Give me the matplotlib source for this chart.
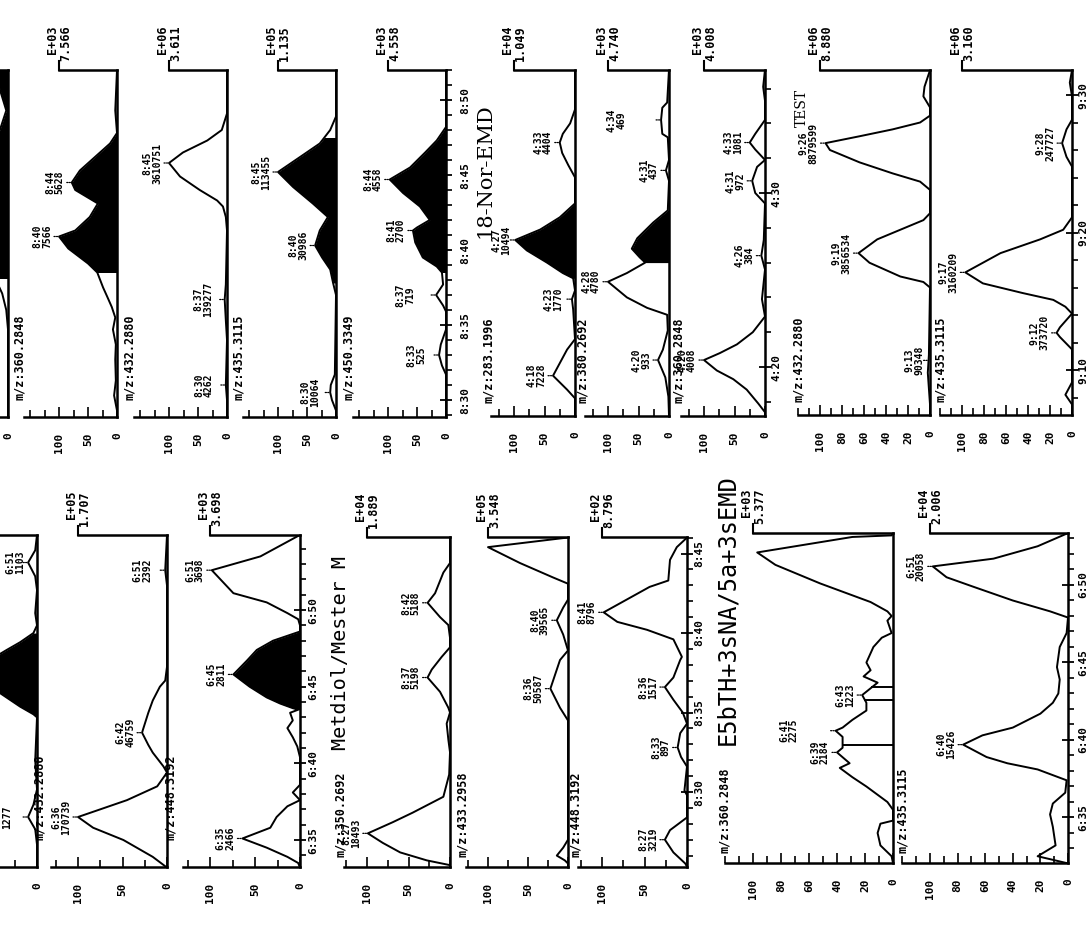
import numpy as np
import matplotlib
matplotlib.use("Agg")
import matplotlib.pyplot as plt
from matplotlib.ticker import FixedLocator, MultipleLocator, FuncFormatter

W, H = 1089, 932
MONO = "DejaVu Sans Mono"
plt.rcParams['font.family'] = [MONO, 'DejaVu Sans']
plt.rcParams['font.weight'] = 'bold'

# ---------------- data: time in seconds, intensity in % ----------------
# group A: 8:30 - 8:50
a0_t = [532.0, 530.7, 529.3, 528.0, 526.7, 525.3, 523.3, 521.3, 519.3, 518.1, 517.1, 516.0, 514.7, 508.9]
a0_i = [22, 14, 3, 14, 31, 65, 90, 74, 40, 22, 10, 3, 0, 0]

a1_t = [532.0, 529.3, 527.8, 527.1, 526.2, 525.3, 524.5, 524.0, 523.1, 522.2, 521.3, 520.9, 520.1,
        519.1, 518.5, 517.5, 516.9, 516.2, 515.5, 514.7, 513.7, 512.7, 511.3, 510.3, 509.3, 508.9]
a1_i = [0, 3, 0, 12, 38, 64, 78, 72, 33, 47, 72, 100, 84, 50, 34, 24, 17, 9, 3, 7, 2, 3, 2, 5, 0, 0]
a1_peaks = [520.9, 524.5]
a1_labels = ["8:40\n7566", "8:44\n5628"]

a2_t = [532.0, 529.1, 528.0, 527.3, 526.5, 525.8, 524.9, 524.0, 523.3, 522.9, 522.2, 521.3,
        517.7, 516.7, 515.3, 514.0, 511.0, 510.0, 508.9]
a2_i = [0, 0, 9, 34, 76, 100, 81, 47, 17, 7, 2, 0, 2, 4, 2, 0, 2, 0, 0]
a2_peaks = [525.8, 516.7, 511.0]
a2_labels = ["8:45\n3610751", "8:37\n139277", "8:30\n4262"]

a3_t = [532.0, 528.9, 528.0, 527.1, 526.2, 525.2, 524.2, 523.1, 522.2, 521.3, 520.3, 519.5,
        518.7, 517.8, 517.0, 511.7, 511.0, 510.5, 510.0, 509.3, 508.9]
a3_i = [0, 0, 10, 28, 62, 100, 74, 40, 14, 28, 36, 24, 10, 5, 0, 2, 9, 10, 7, 0, 0]
a3_peaks = [525.2, 520.3, 510.5]
a3_labels = ["8:45\n113455", "8:40\n30986", "8:30\n10064"]

a4_t = [532.0, 528.2, 527.3, 526.5, 525.5, 524.7, 523.8, 522.9, 522.0, 521.5, 521.3, 520.5, 519.5,
        518.9, 518.5, 517.7, 517.0, 516.3, 515.9, 514.7, 513.7, 513.0, 512.3, 511.7, 508.9]
a4_i = [0, 0, 16, 36, 62, 97, 74, 45, 28, 50, 57, 53, 40, 16, 7, 5, 17, 5, 0, 0, 9, 12, 7, 0, 0]
a4_peaks = [524.7, 521.3, 517.0, 513.0]
a4_labels = ["8:44\n4558", "8:41\n2700", "8:37\n719", "8:33\n525"]

# group B: 18-Nor-EMD, 4:20 - 4:30
b1_t = [277.1, 274.8, 274.0, 273.4, 272.9, 272.3, 271.6, 270.9, 269.4, 268.6, 267.9, 267.3, 266.7,
        266.0, 265.4, 265.1, 264.4, 263.9, 263.3, 261.6, 261.0, 259.5, 258.7, 258.2, 257.2]
b1_i = [0, 0, 8, 20, 25, 21, 11, 0, 0, 25, 57, 98, 79, 46, 20, 3, 0, 5, 3, 0, 13, 36, 13, 0, 0]
b1_peaks = [267.3, 272.9, 263.9, 259.5]
b1_labels = ["4:27\n10494", "4:33\n4404", "4:23\n1770", "4:18\n7228"]

b2_t = [277.1, 275.2, 274.9, 274.2, 273.4, 273.2, 271.9, 271.3, 270.7, 269.0, 268.3, 267.4, 266.8,
        266.3, 266.0, 265.4, 264.9, 264.0, 263.4, 263.0, 262.1, 261.0, 260.4, 259.4, 258.3, 257.2]
b2_i = [0, 3, 11, 13, 11, 2, 0, 5, 0, 2, 26, 52, 61, 48, 39, 69, 100, 69, 36, 3, 2, 10, 18, 6, 1, 0]
b2_peaks = [264.9, 274.2, 271.3, 260.4]
b2_labels = ["4:28\n4780", "4:34\n469", "4:31\n437", "4:20\n933"]

b3_t = [277.1, 276.1, 275.3, 274.2, 273.4, 272.9, 272.5, 271.9, 271.5, 270.7, 270.0, 269.4, 267.3,
        266.4, 265.6, 263.9, 262.9, 262.0, 261.3, 260.8, 260.4, 259.8, 259.3, 258.7, 257.9, 257.4, 257.2]
b3_i = [0, 3, 0, 0, 16, 25, 16, 0, 13, 21, 16, 0, 2, 6, 0, 5, 0, 20, 46, 74, 100, 79, 52, 30, 11, 0, 0]
b3_peaks = [272.9, 270.7, 266.4, 260.4]
b3_labels = ["4:33\n1081", "4:31\n972", "4:26\n384", "4:20\n4008"]

# group C: TEST, 9:10 - 9:30
c1_t = [571.8, 570.6, 569.9, 569.1, 568.5, 568.0, 567.5, 567.0, 566.5, 566.0, 565.1, 564.3, 563.7,
        563.1, 561.4, 560.9, 560.2, 559.5, 558.5, 557.8, 556.8, 556.4, 556.0, 551.1, 549.8, 547.5, 546.7]
c1_i = [0, 5, 6, 0, 0, 9, 34, 64, 95, 91, 64, 34, 9, 0, 0, 6, 27, 48, 65, 55, 27, 6, 0, 1, 2, 0, 0]
c1_peaks = [566.5, 558.5, 550.7]
c1_labels = ["9:26\n8879599", "9:19\n3856534", "9:13\n90348"]

c2_t = [571.8, 570.9, 569.9, 568.2, 567.5, 566.5, 565.5, 564.8, 561.1, 560.2, 559.5, 558.5, 557.1,
        556.3, 555.6, 555.1, 554.6, 554.1, 553.1, 552.7, 552.4, 551.5, 549.1, 548.2, 547.5, 546.7]
c2_i = [0, 2, 0, 0, 5, 9, 5, 0, 0, 8, 29, 65, 97, 81, 45, 17, 6, 0, 11, 14, 11, 0, 0, 6, 0, 0]
c2_peaks = [557.1, 566.5, 552.7]
c2_labels = ["9:17\n3160209", "9:28\n247727", "9:12\n373720"]

# group D: 6:35 - 6:50
d0_t = [414.9, 413.9, 413.1, 412.2, 411.3, 409.8, 409.0, 408.5, 407.9, 407.4, 405.8, 404.6, 403.7,
        403.2, 403.0, 400.2, 398.3, 397.3, 396.5, 395.7, 394.7, 393.2]
d0_i = [0, 2, 10, 2, 0, 2, 0, 4, 19, 34, 80, 42, 19, 4, 0, 2, 0, 4, 10, 2, 0, 0]
d0_peaks = [413.1, 396.5]
d0_labels = ["6:51\n1103", "6:37\n1277"]

d1_t = [414.9, 412.6, 411.6, 406.3, 405.4, 405.0, 404.1, 403.3, 402.2, 402.0, 401.2, 400.7, 399.8,
        399.4, 398.5, 397.6, 397.0, 396.5, 395.8, 395.0, 393.9, 393.2]
d1_i = [0, 2, 0, 0, 2, 8, 16, 21, 27, 28, 21, 16, 4, 0, 11, 45, 75, 100, 83, 49, 16, 0]
d1_peaks = [402.0, 396.5, 412.6]
d1_labels = ["6:42\n46759", "6:36\n170739", "6:51\n2392"]

d2_t = [414.9, 413.5, 412.6, 411.1, 410.5, 409.8, 409.4, 409.0, 408.6, 408.0, 407.4, 406.7, 405.8,
        405.0, 404.3, 403.9, 403.6, 403.5, 403.3, 402.8, 402.3, 401.7, 401.1, 400.4, 398.6, 398.1,
        397.6, 397.2, 396.5, 395.8, 395.1, 394.5, 393.9, 393.5, 393.2]
d2_i = [0, 44, 98, 74, 37, 14, 2, 0, 0, 30, 48, 59, 74, 56, 37, 22, 8, 2, 11, 8, 14, 8, 3, 0, 0, 8,
        0, 14, 26, 33, 64, 37, 14, 2, 0]
d2_peaks = [412.6, 405.8, 395.1]
d2_labels = ["6:51\n3698", "6:45\n2811", "6:35\n2466"]

# group E: Metdiol/Mester M, 8:30 - 8:45
e1_t = [526.0, 524.4, 523.8, 522.5, 521.9, 521.0, 520.5, 519.7, 519.1, 518.5, 517.7, 517.2, 516.3,
        515.3, 515.0, 514.3, 513.3, 512.5, 511.1, 509.7, 508.7, 508.1, 507.4, 506.8, 506.2, 505.7,
        505.4, 505.3]
e1_i = [0, 0, 8, 18, 27, 12, 2, 0, 0, 10, 22, 27, 12, 2, 0, 4, 2, 0, 1, 8, 45, 69, 99, 81, 60, 28, 0, 0]
e1_peaks = [521.9, 517.2, 507.4]
e1_labels = ["8:42\n5188", "8:37\n5198", "8:27\n18493"]

e2_t = [526.0, 525.4, 524.4, 523.5, 523.1, 522.1, 521.6, 520.8, 519.9, 518.9, 518.3, 516.5, 515.3,
        514.5, 507.0, 506.5, 506.0, 505.7, 505.5, 505.3]
e2_i = [1, 100, 60, 19, 0, 0, 6, 14, 6, 0, 10, 22, 10, 0, 0, 6, 14, 4, 0, 0]
e2_peaks = [520.8, 516.5]
e2_labels = ["8:40\n39565", "8:36\n50587"]

e3_t = [526.0, 525.4, 524.6, 523.3, 522.9, 522.1, 521.3, 520.7, 520.2, 519.6, 518.5, 518.3, 517.2,
        516.6, 515.8, 515.0, 514.3, 513.7, 512.8, 512.2, 511.6, 510.1, 509.8, 508.4, 507.6, 507.0,
        506.2, 505.5, 505.3]
e3_i = [0, 12, 20, 22, 44, 71, 98, 82, 47, 16, 6, 8, 16, 26, 16, 5, 0, 8, 11, 7, 0, 3, 0, 0, 20, 26,
        16, 2, 0]
e3_peaks = [521.3, 516.6, 512.8, 507.0]
e3_labels = ["8:41\n8796", "8:36\n1517", "8:33\n897", "8:27\n3219"]

# group F: E5bTH+3sNA/5a+3sEMD, 6:35 - 6:50
f1_t = [413.35, 413.2, 413.1, 412.1, 411.3, 410.1, 408.9, 408.3, 408.0, 407.7, 406.9, 406.6, 406.0,
        405.0, 404.5, 404.1, 403.7, 402.9, 402.4, 401.9, 401.3, 400.8, 400.6, 400.2, 399.5, 399.2,
        398.5, 398.2, 397.6, 397.0, 396.0, 395.5, 394.8, 394.6, 394.0, 393.2, 392.5, 392.06]
f1_i = [0, 1, 29, 97, 84, 52, 16, 4, 1, 4, 1, 8, 14, 19, 16, 21, 11, 22, 19, 19, 29, 36, 41, 36, 36,
        40, 31, 38, 29, 19, 4, 0, 0, 9, 11, 9, 1, 0]
f1_peaks = [400.6, 399.2, 402.9]
f1_labels = ["6:41\n2275", "6:39\n2184", "6:43\n1223"]
f1_drops = [403.4, 402.6, 399.7]

f2_t = [413.35, 412.5, 411.7, 411.2, 410.5, 409.9, 409.0, 408.3, 407.9, 406.9, 406.0, 404.7, 403.9,
        403.0, 402.4, 401.7, 400.8, 400.3, 399.7, 398.9, 398.5, 398.1, 397.4, 396.6, 395.9, 395.2,
        394.4, 393.2, 392.5, 392.06]
f2_i = [0, 22, 54, 98, 88, 69, 40, 13, 0, 1, 6, 8, 6, 7, 11, 20, 40, 62, 76, 59, 44, 22, 1, 2, 11,
        13, 11, 9, 22, 1]
f2_peaks = [411.2, 399.7]
f2_labels = ["6:51\n20058", "6:40\n15426"]

# ---------------- layout of the rotated page (pixels) ----------------
GROUPS = {
    'A': dict(bot=417, top=70, t_ref=510, y_ref=400, pps=15.0, imax=160, major=[0, 50, 100], minor=25,
              tmaj=5, tmin=1, tpad=6.5, mz_dx=-5, mz_dy=17),
    'B': dict(bot=416, top=70, t_ref=260, y_ref=367, pps=17.4, imax=137, major=[0, 50, 100], minor=25,
              tmaj=10, tmin=2, tpad=0.5, mz_dx=-3, mz_dy=13),
    'C': dict(bot=415, top=70, t_ref=550, y_ref=370, pps=13.75, imax=120,
              major=[0, 20, 40, 60, 80, 100], minor=10, tmaj=10, tmin=2, tpad=0.5, mz_dx=0, mz_dy=13),
    'D': dict(bot=867, top=535, t_ref=395, y_ref=840, pps=15.33, imax=130, major=[0, 50, 100], minor=25,
              tmaj=5, tmin=1, tpad=2.2, mz_dx=-12, mz_dy=27),
    'E': dict(bot=867, top=537, t_ref=510, y_ref=792, pps=15.9, imax=128, major=[0, 50, 100], minor=25,
              tmaj=5, tmin=1, tpad=1.5, mz_dx=-3, mz_dy=10),
    'F': dict(bot=863, top=533, t_ref=400, y_ref=740, pps=15.5, imax=120,
              major=[0, 20, 40, 60, 80, 100], minor=10, tmaj=5, tmin=1, tpad=3.5, mz_dx=0, mz_dy=10),
}

fig = plt.figure(figsize=(W / 100, H / 100), dpi=100)
fig.patch.set_facecolor('white')


def mmss(v, pos=None):
    s = int(round(v))
    return f"{s // 60}:{s % 60:02d}"


def panel(gk, base, ppi, t, i, peaks=(), labels=(), lifts=None, fill=None, mz=None, scale=None,
          last=False, drops=()):
    g = GROUPS[gk]
    t = np.asarray(t, float)
    i = np.asarray(i, float)
    order = np.argsort(t)
    t, i = t[order], i[order]
    t0 = g['t_ref'] - (g['bot'] - g['y_ref']) / g['pps']
    t1 = g['t_ref'] + (g['y_ref'] - g['top']) / g['pps']
    left = base - ppi * g['imax']
    wpx, hpx = base - left, g['bot'] - g['top']
    ax = fig.add_axes([left / W, 1 - g['bot'] / H, wpx / W, hpx / H])
    ax.set_facecolor('none')
    ax.set_xlim(g['imax'], 0)
    ax.set_ylim(t0, t1)

    ax.plot(i, t, color='k', lw=1.4, solid_joinstyle='round')
    if fill:
        tt = np.linspace(fill[0], fill[1], 400)
        ax.fill_betweenx(tt, 0, np.interp(tt, t, i), color='k', lw=0)
    for td in drops:
        ax.plot([0, np.interp(td, t, i)], [td, td], color='k', lw=1.4)

    # frame
    ax.spines['left'].set_visible(False)
    ax.spines['top'].set_bounds(0, 100)
    for s in ('top', 'right', 'bottom'):
        ax.spines[s].set_linewidth(1.8)
    ax.plot([100, 100], [t1, t1 + 9 / g['pps']], color='k', lw=1.5, clip_on=False)

    # intensity axis
    ax.xaxis.set_major_locator(FixedLocator(g['major']))
    ax.xaxis.set_minor_locator(MultipleLocator(g['minor']))
    ax.tick_params(axis='x', which='both', direction='in', width=1.2, top=False)
    ax.tick_params(axis='x', which='major', length=7, pad=11, labelsize=8, labelrotation=90)
    ax.tick_params(axis='x', which='minor', length=5)

    # time axis
    if last:
        ax.yaxis.tick_right()
        ax.yaxis.set_major_locator(MultipleLocator(g['tmaj']))
        ax.yaxis.set_minor_locator(MultipleLocator(g['tmin']))
        ax.yaxis.set_major_formatter(FuncFormatter(mmss))
        ax.tick_params(axis='y', which='major', direction='inout', length=8, width=1.3, pad=g['tpad'],
                       labelsize=8, labelrotation=90)
        ax.tick_params(axis='y', which='minor', direction='out', length=4, width=1.2)
        for lab in ax.get_yticklabels():
            lab.set_va('center')
    else:
        ax.tick_params(axis='y', which='both', left=False, right=False, labelleft=False)

    for k, (tp, txt) in enumerate(zip(peaks, labels)):
        ip = np.interp(tp, t, i)
        lift = lifts[k] if lifts else 0
        ax.annotate('', xy=(ip, tp), xytext=(-5, 0), textcoords='offset pixels',
                    arrowprops=dict(arrowstyle='-', lw=0.9, ls=(0, (1, 1)), color='k',
                                    shrinkA=0, shrinkB=1))
        ax.annotate(txt, xy=(ip, tp), xytext=(-(7 + lift), 0), textcoords='offset pixels',
                    rotation=90, ha='right', va='center', fontsize=7, linespacing=0.95,
                    multialignment='center')
    if mz:
        ax.text(g['mz_dx'] / wpx, g['mz_dy'] / hpx, mz, transform=ax.transAxes, rotation=90,
                ha='center', va='bottom', fontsize=8.5)
    if scale:
        ax.annotate(scale, xy=(100, 1), xycoords=('data', 'axes fraction'), xytext=(0, 9),
                    textcoords='offset pixels', rotation=90, ha='center', va='bottom',
                    multialignment='right', fontsize=8.5, linespacing=1.05)
    return ax


# group A
panel('A', 8, 0.58, a0_t, a0_i, fill=(518.1, 532.0))
panel('A', 117, 0.58, a1_t, a1_i, a1_peaks, a1_labels, fill=(518.5, 527.8),
      mz="m/z:360.2848", scale="E+03\n7.566")
panel('A', 227, 0.58, a2_t, a2_i, a2_peaks, a2_labels, lifts=[0, 5, 5],
      mz="m/z:432.2880", scale="E+06\n3.611")
panel('A', 336, 0.58, a3_t, a3_i, a3_peaks, a3_labels, lifts=[0, 0, 3], fill=(517.8, 527.5),
      mz="m/z:435.3115", scale="E+05\n1.135")
panel('A', 446, 0.58, a4_t, a4_i, a4_peaks, a4_labels, lifts=[0, 0, 14, 6], fill=(518.5, 528.2),
      mz="m/z:450.3349", scale="E+03\n4.558", last=True)

# group B
panel('B', 575, 0.61, b1_t, b1_i, b1_peaks, b1_labels, lifts=[-3, 0, 2, 0], fill=(265.1, 269.4),
      mz="m/z:283.1996", scale="E+04\n1.049")
panel('B', 669, 0.61, b2_t, b2_i, b2_peaks, b2_labels, lifts=[0, 28, 0, 0], fill=(266.0, 269.0),
      mz="m/z:380.2692", scale="E+03\n4.740")
panel('B', 765, 0.61, b3_t, b3_i, b3_peaks, b3_labels,
      mz="m/z:360.2848", scale="E+03\n4.008", last=True)

# group C
panel('C', 930, 1.1, c1_t, c1_i, c1_peaks, c1_labels, lifts=[0, 0, -3],
      mz="m/z:432.2880", scale="E+06\n8.880")
panel('C', 1072, 1.1, c2_t, c2_i, c2_peaks, c2_labels,
      mz="m/z:435.3115", scale="E+06\n3.160", last=True)

# group D
panel('D', 37, 0.89, d0_t, d0_i, d0_peaks, d0_labels, lifts=[-4, 9], fill=(403.1, 408.5))
panel('D', 167, 0.89, d1_t, d1_i, d1_peaks, d1_labels, lifts=[0, 0, 6],
      mz="m/z:432.2880", scale="E+05\n1.707")
panel('D', 300, 0.90, d2_t, d2_i, d2_peaks, d2_labels, fill=(403.5, 408.6),
      mz="m/z:448.3192", scale="E+03\n3.698", last=True)

# group E
panel('E', 450, 0.83, e1_t, e1_i, e1_peaks, e1_labels,
      mz="m/z:350.2692", scale="E+04\n1.889")
panel('E', 568, 0.80, e2_t, e2_i, e2_peaks, e2_labels,
      mz="m/z:433.2958", scale="E+05\n3.548")
panel('E', 687, 0.85, e3_t, e3_i, e3_peaks, e3_labels,
      mz="m/z:448.3192", scale="E+02\n8.796", last=True)

# group F
panel('F', 893, 1.40, f1_t, f1_i, f1_peaks, f1_labels, lifts=[30, 0, 0], drops=f1_drops,
      mz="m/z:360.2848", scale="E+03\n5.377")
panel('F', 1068, 1.38, f2_t, f2_i, f2_peaks, f2_labels,
      mz="m/z:435.3115", scale="E+04\n2.006", last=True)

# group titles
fig.text(485 / W, 1 - 171 / H, "18-Nor-EMD", rotation=90, ha='center', va='center',
         family='DejaVu Serif', weight='normal', fontsize=15)
fig.text(802 / W, 1 - 108 / H, "TEST", rotation=90, ha='center', va='center',
         family='DejaVu Serif', weight='normal', fontsize=10)
fig.text(341 / W, 1 - 653 / H, "Metdiol/Mester M", rotation=90, ha='center', va='center',
         family=MONO, weight='normal', fontsize=14.5)
fig.text(727 / W, 1 - 610 / H, "E5bTH+3sNA/5a+3sEMD", rotation=90, ha='center', va='center',
         family=MONO, weight='normal', fontsize=17)

fig.savefig("out.png", dpi=100, facecolor='white')
